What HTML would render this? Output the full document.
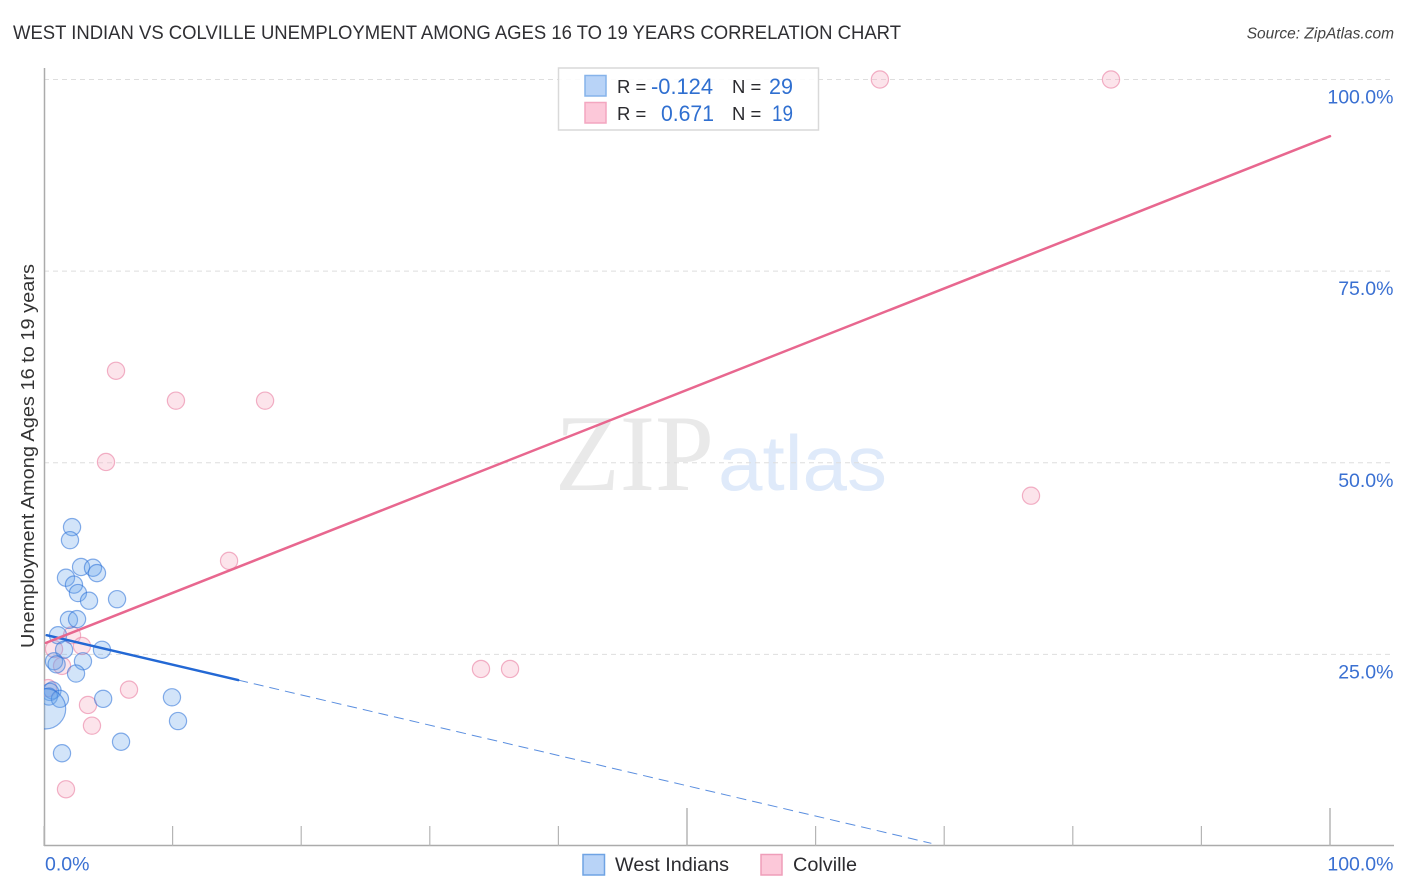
<!DOCTYPE html>
<html lang="en">
<head>
<meta charset="utf-8">
<title>West Indian vs Colville Unemployment Correlation Chart</title>
<style>
html,body{margin:0;padding:0;background:#fff;width:1406px;height:892px;overflow:hidden}
svg{display:block;font-family:"Liberation Sans",sans-serif}
</style>
</head>
<body>
<svg id="chart" width="1406" height="892" viewBox="0 0 1406 892" xmlns="http://www.w3.org/2000/svg">
  <defs><clipPath id="plot-clip"><rect x="44" y="60" width="1350" height="786"/></clipPath></defs>
  <text x="13" y="39" font-size="19.5" fill="#2f2f33" textLength="888" lengthAdjust="spacingAndGlyphs">WEST INDIAN VS COLVILLE UNEMPLOYMENT AMONG AGES 16 TO 19 YEARS CORRELATION CHART</text>
  <text x="1394" y="38.500" font-size="15.500" font-style="italic" fill="#444" text-anchor="end">Source: ZipAtlas.com</text>

  <g>
    <text x="555" y="490" font-family="'Liberation Serif',serif" font-size="109" fill="#e9e9e9" textLength="159" lengthAdjust="spacingAndGlyphs">ZIP</text>
    <text x="718" y="490" font-size="78" fill="#dfeafa" textLength="169" lengthAdjust="spacingAndGlyphs">atlas</text>
  </g>

  <g id="grid"></g>
  <g id="axes"></g>
  <g id="colville-points" clip-path="url(#plot-clip)"></g>
  <g id="west-points" clip-path="url(#plot-clip)"></g>
  <g id="trends"></g>

  <text transform="translate(34 648) rotate(-90)" font-size="18.500" fill="#333" textLength="384" lengthAdjust="spacingAndGlyphs">Unemployment Among Ages 16 to 19 years</text>

  <g>
    <rect x="558.500" y="68" width="260" height="62" fill="#fff" fill-opacity="0.88" stroke="#d9d9d9" stroke-width="1.500"/>
    <rect x="585" y="75.500" width="21" height="20.500" fill="#b8d3f7" stroke="#86b3ea" stroke-width="1.500"/>
    <rect x="585" y="102.500" width="21" height="20.500" fill="#fcc8d9" stroke="#f3a6c0" stroke-width="1.500"/>
    <text x="617" y="93" font-size="18.500" fill="#2b2b2f">R =</text>
    <text x="651" y="94" font-size="22" fill="#2f6fd0" textLength="62" lengthAdjust="spacingAndGlyphs">-0.124</text>
    <text x="732" y="93" font-size="18.500" fill="#2b2b2f">N =</text>
    <text x="769" y="94" font-size="22" fill="#2f6fd0" textLength="24" lengthAdjust="spacingAndGlyphs">29</text>
    <text x="617" y="120" font-size="18.500" fill="#2b2b2f">R =</text>
    <text x="661" y="121" font-size="22" fill="#2f6fd0" textLength="53" lengthAdjust="spacingAndGlyphs">0.671</text>
    <text x="732" y="120" font-size="18.500" fill="#2b2b2f">N =</text>
    <text x="772" y="121" font-size="22" fill="#2f6fd0" textLength="21" lengthAdjust="spacingAndGlyphs">19</text>
  </g>

  <g>
    <rect x="583" y="854.500" width="21.500" height="20.500" fill="#b8d3f7" stroke="#6fa3e4" stroke-width="1.500"/>
    <text x="615" y="871" font-size="19.500" fill="#2b2b2f" textLength="114" lengthAdjust="spacingAndGlyphs">West Indians</text>
    <rect x="761" y="854.500" width="21" height="20.500" fill="#fcc8d9" stroke="#ef9db9" stroke-width="1.500"/>
    <text x="793" y="871" font-size="19.500" fill="#2b2b2f" textLength="64" lengthAdjust="spacingAndGlyphs">Colville</text>
  </g>
</svg>
<script>
// Chart data (percent values)
const yTickValues = [25, 50, 75, 100];
const yTickLabels = ["25.0%", "50.0%", "75.0%", "100.0%"];
const xTickValues = [0, 10, 20, 30, 40, 50, 60, 70, 80, 90, 100];
const xEndLabels = ["0.0%", "100.0%"];

const westX = [2.18,2.02,2.88,3.81,4.12,1.71,2.33,2.64,3.50,5.68,1.94,2.57,1.09,1.56,4.51,0.78,3.03,0.98,2.49,0.66,0.47,0.38,1.24,4.60,9.95,10.42,5.99,1.40,0.12];
const westY = [41.6,39.9,36.4,36.3,35.6,35.0,34.1,33.0,32.0,32.2,29.5,29.6,27.5,25.6,25.6,24.1,24.1,23.7,22.5,20.3,20.1,19.5,19.2,19.2,19.4,16.3,13.6,12.1,17.9];
const westWeight = [1,1,1,1,1,1,1,1,1,1,1,1,1,1,1,1,1,1,1,1,1,1,1,1,1,1,1,1,5.5];

const colvilleX = [65.0,82.97,5.6,10.26,17.19,4.82,76.75,14.39,2.18,2.95,0.78,1.4,33.98,36.24,6.61,0.31,3.42,3.73,1.71];
const colvilleY = [100,100,62.0,58.1,58.1,50.1,45.7,37.2,27.5,26.1,25.7,23.5,23.1,23.1,20.4,20.6,18.4,15.7,7.4];

const westTrendX = [0.21, 15.1, 69.0];
const westTrendY = [27.5, 21.65, 0.35];
const colvilleTrendX = [0.15, 100];
const colvilleTrendY = [26.5, 92.6];

const NS = "http://www.w3.org/2000/svg";
const xScale = v => 44 + v * 12.86;
const yScale = v => 846 - v * 7.665;
const radius = w => 8.6 * Math.sqrt(w);

function make(parentId, tag, attrs, text) {
  const el = document.createElementNS(NS, tag);
  for (const k in attrs) el.setAttribute(k, attrs[k]);
  if (text !== undefined) el.textContent = text;
  document.getElementById(parentId).appendChild(el);
  return el;
}

yTickValues.forEach((v, i) => {
  const line = make("grid", "line", {x1: 44, x2: 1394, y1: yScale(v), y2: yScale(v), stroke: "#dedede", "stroke-width": 1, "stroke-dasharray": "5 4"});
  
  
  const label = make("axes", "text", {x: 1393.500, y: yScale(v) + 24, "text-anchor": "end", "font-size": 19.500, fill: "#3a70d2"}, yTickLabels[i]);
  
  
});

const leftAxis = make("axes", "line", {x1: 44.500, x2: 44.500, y1: 68, y2: 846, stroke: "#ababab", "stroke-width": 1.500});


const bottomAxis = make("axes", "line", {x1: 44, x2: 1394, y1: 845.500, y2: 845.500, stroke: "#ababab", "stroke-width": 1.500});



xTickValues.forEach(v => {
  const major = v % 50 === 0 && v !== 0;
  const tick = make("axes", "line", {x1: xScale(v), x2: xScale(v), y1: major ? 808 : 826, y2: 846, stroke: "#b5b5b5", "stroke-width": major ? 1.500 : 1.200});
  
  
});

const xStart = make("axes", "text", {x: 45, y: 870.500, "font-size": 19.500, fill: "#3a70d2"}, xEndLabels[0]);


const xEnd = make("axes", "text", {x: 1393.500, y: 870.500, "text-anchor": "end", "font-size": 19.500, fill: "#3a70d2"}, xEndLabels[1]);



colvilleX.forEach((x, i) => {
  const c = make("colville-points", "circle", {cx: xScale(x), cy: yScale(colvilleY[i]), r: radius(1), fill: "#f8b4c8", "fill-opacity": 0.36, stroke: "#ea82a5", "stroke-opacity": 0.62, "stroke-width": 1.200});
  
  
});

westX.forEach((x, i) => {
  const c = make("west-points", "circle", {cx: xScale(x), cy: yScale(westY[i]), r: radius(westWeight[i]), fill: "#6aa4ea", "fill-opacity": 0.3, stroke: "#2a70d8", "stroke-opacity": 0.56, "stroke-width": 1.200});
  
  
});

const westSolid = make("trends", "line", {x1: xScale(westTrendX[0]), y1: yScale(westTrendY[0]), x2: xScale(westTrendX[1]), y2: yScale(westTrendY[1]), stroke: "#2368d4", "stroke-width": 2.500, "stroke-linecap": "round"});


const westDash = make("trends", "line", {x1: xScale(westTrendX[1]), y1: yScale(westTrendY[1]), x2: xScale(westTrendX[2]), y2: yScale(westTrendY[2]), stroke: "#2368d4", "stroke-opacity": 0.75, "stroke-width": 1, "stroke-dasharray": "10 6"});


const colvilleLine = make("trends", "line", {x1: xScale(colvilleTrendX[0]), y1: yScale(colvilleTrendY[0]), x2: xScale(colvilleTrendX[1]), y2: yScale(colvilleTrendY[1]), stroke: "#e8678f", "stroke-width": 2.500, "stroke-linecap": "round"});


</script>
</body>
</html>
